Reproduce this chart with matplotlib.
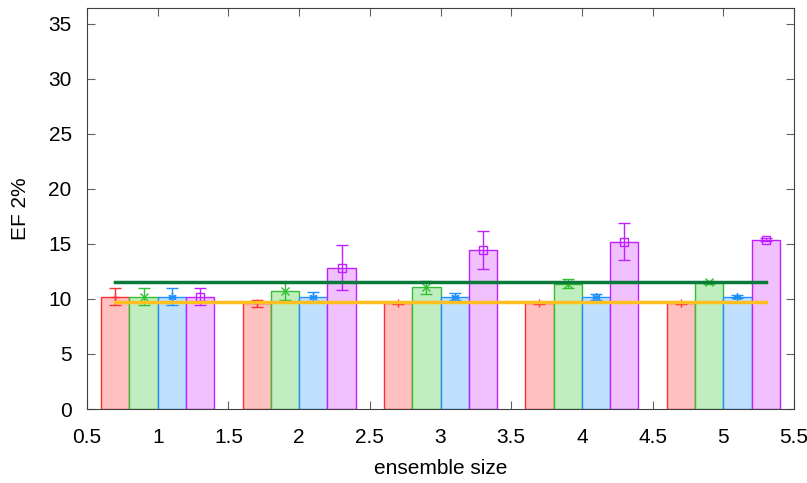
# Grouped bar chart of EF 2% against ensemble size, with error bars and two reference lines
import numpy as np
import matplotlib.pyplot as plt

plt.rcParams['font.family'] = ['Liberation Sans', 'DejaVu Sans']

# data
sizes = [1, 2, 3, 4, 5]
red_vals = [10.2, 9.6, 9.65, 9.65, 9.65]
red_err = [0.77, 0.3, 0.1, 0.1, 0.1]
green_vals = [10.2, 10.7, 11.05, 11.4, 11.5]
green_err = [0.77, 0.8, 0.6, 0.4, 0.1]
blue_vals = [10.2, 10.2, 10.2, 10.2, 10.2]
blue_err = [0.77, 0.4, 0.3, 0.25, 0.15]
magenta_vals = [10.2, 12.85, 14.45, 15.2, 15.4]
magenta_err = [0.77, 2.05, 1.73, 1.7, 0.1]
line_green = 11.55
line_orange = 9.7

fig = plt.figure(figsize=(8.07, 4.83), dpi=100)
ax = fig.add_axes([0.1078, 0.1532, 0.8761, 0.8302])

x = np.array(sizes, dtype=float)
width = 0.2
series = [
    (red_vals, red_err, '#ff3030', '#ffc0c0', '+', -0.3),
    (green_vals, green_err, '#30c030', '#c0eec0', 'x', -0.1),
    (blue_vals, blue_err, '#2090ff', '#c0e0ff', (6, 2, 0), 0.1),
    (magenta_vals, magenta_err, '#c020ff', '#f0c0ff', 's', 0.3),
]
for vals, err, edge, fill, mk, off in series:
    ax.bar(x + off, vals, width=width, color=fill, edgecolor=edge, linewidth=1.0, zorder=2)
    ax.errorbar(x + off, vals, yerr=err, fmt='none', ecolor=edge, elinewidth=1.0,
                capsize=4, capthick=1.0, zorder=3)
    if mk == 's':
        ax.plot(x + off, vals, linestyle='none', marker='s', markersize=6,
                markerfacecolor='none', markeredgecolor=edge, markeredgewidth=1.0, zorder=4)
    else:
        ax.plot(x + off, vals, linestyle='none', marker=mk, markersize=6,
                color=edge, markeredgewidth=1.0, zorder=4)

# reference lines from first to last bar centre
xs = [x[0] - 0.3, x[-1] + 0.3]
ax.plot(xs, [line_green, line_green], color='#0a7a3a', linewidth=2.5, zorder=5)
ax.plot(xs, [line_orange, line_orange], color='#ffbf20', linewidth=2.5, zorder=5)

ax.set_xlim(0.5, 5.5)
ax.set_ylim(0, 36.45)
ax.set_xticks(np.arange(0.5, 5.51, 0.5))
ax.set_xticklabels(['0.5', '1', '1.5', '2', '2.5', '3', '3.5', '4', '4.5', '5', '5.5'])
ax.set_yticks(range(0, 36, 5))
ax.tick_params(direction='in', top=True, right=True, labelsize=15, length=6,
               color='#606060')
ax.tick_params(axis='y', pad=11)
ax.tick_params(axis='x', pad=14)
ax.set_xlabel('ensemble size', fontsize=15, labelpad=8)
ax.set_ylabel('EF 2%', fontsize=15, labelpad=13)
for s in ax.spines.values():
    s.set_color('#404040')

fig.savefig('out.png', dpi=100)
